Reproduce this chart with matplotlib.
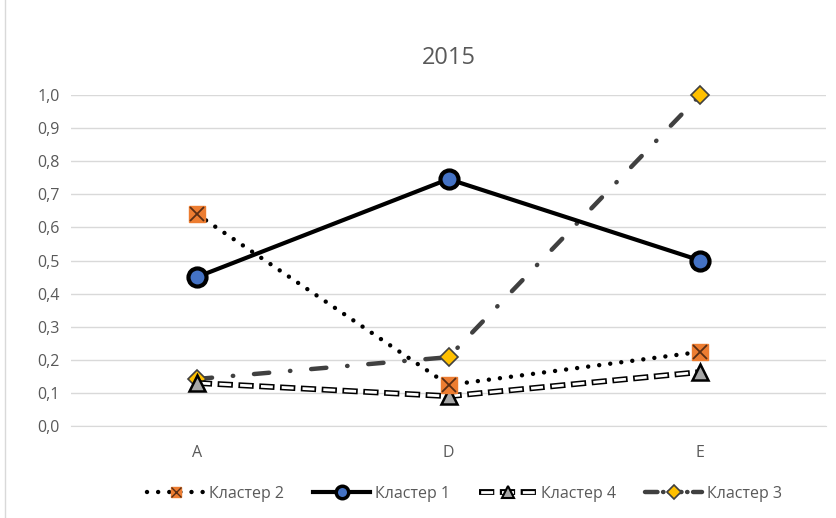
import matplotlib.pyplot as plt
from matplotlib.lines import Line2D
from matplotlib.legend_handler import HandlerTuple

categories = ['A', 'D', 'E']
klaster2 = [0.64, 0.124, 0.224]
klaster1 = [0.45, 0.746, 0.50]
klaster4 = [0.13, 0.09, 0.163]
klaster3 = [0.142, 0.208, 1.0]
yticks = [0.0, 0.1, 0.2, 0.3, 0.4, 0.5, 0.6, 0.7, 0.8, 0.9, 1.0]

plt.rcParams['font.family'] = ['Open Sans', 'DejaVu Sans']
plt.rcParams['lines.scale_dashes'] = False

fig = plt.figure(figsize=(8.37, 5.18), dpi=100)
ax = fig.add_axes([0.0848, 0.1776, 0.9022, 0.639])
x = list(range(len(categories)))

# styles (shared with legend proxies)
st3 = dict(color='#404040', lw=3.2, ls=(0, (11, 15, 0.3, 15)), dash_capstyle='round',
           mfc='#FFC000', mec='#404040', mew=1.2)
st4b = dict(color='black', lw=4.2, ls=(0, (11, 4)))
st4w = dict(color='white', lw=2.0, ls=(13.8, (8.6, 6.4)))
st2 = dict(color='black', lw=3.2, ls=(0, (0.01, 8)), dash_capstyle='round',
           mfc='#ED7D31', mec='#ED7D31')
st1 = dict(color='black', lw=3, mfc='#4472C4', mec='black')

# Кластер 3 - dash-dot gray, diamond
ax.plot(x, klaster3, marker='D', ms=9, zorder=3, clip_on=False, **st3)
# Кластер 4 - white dashed with black outline, triangle
ax.plot(x, klaster4, zorder=4, **st4b)
ax.plot(x, klaster4, zorder=4, **st4w)
ax.plot(x, klaster4, ls='none', marker='^', ms=12, mfc='#A6A6A6', mec='black', mew=1.8, zorder=4)
# Кластер 2 - dotted black, orange square with X
ax.plot(x, klaster2, marker='s', ms=11, zorder=5, **st2)
ax.plot(x, klaster2, ls='none', marker='x', ms=10, mec='#5a2e14', mew=1.3, zorder=6)
# Кластер 1 - solid black, blue circle
ax.plot(x, klaster1, marker='o', ms=13, mew=3, zorder=5, **st1)

ax.set_xlim(-0.5, 2.5)
ax.set_ylim(0, 1.0)
ax.set_xticks(x)
ax.set_xticklabels(categories)
ax.set_yticks(yticks)
ax.set_yticklabels([f'{v:.1f}'.replace('.', ',') for v in yticks])
ax.tick_params(axis='both', length=0, labelsize=11.5, labelcolor='#595959', pad=8)
ax.tick_params(axis='x', pad=14)
ax.grid(axis='y', color='#d9d9d9', lw=1)
ax.set_axisbelow(True)
for s in ['top', 'right', 'left']:
    ax.spines[s].set_visible(False)
ax.spines['bottom'].set_color('#d9d9d9')

ax.set_title('2015', fontsize=17, color='#595959', pad=22)

# legend proxies with smaller markers
h2 = (Line2D([], [], marker='s', ms=7, **st2),
      Line2D([], [], ls='none', marker='x', ms=7, mec='#5a2e14', mew=1))
h1 = Line2D([], [], marker='o', ms=9, mew=2.5, **st1)
h4 = (Line2D([], [], **st4b), Line2D([], [], **st4w),
      Line2D([], [], ls='none', marker='^', ms=8, mfc='#A6A6A6', mec='black', mew=1.5))
h3 = Line2D([], [], marker='D', ms=7, color='#404040', lw=3.2, ls=(0, (9, 4, 0.3, 4)),
            dash_capstyle='round', mfc='#FFC000', mec='#404040', mew=1.2)
labels = ['Кластер 2', 'Кластер 1', 'Кластер 4', 'Кластер 3']
fig.legend([h2, h1, h4, h3], labels, loc='center', bbox_to_anchor=(0.555, 0.047), ncol=4,
           frameon=False, fontsize=11.5, labelcolor='#595959', handlelength=3.6,
           columnspacing=1.8, handletextpad=0.3,
           handler_map={tuple: HandlerTuple(ndivide=1, pad=0)})

# chart border on the left
fig.add_artist(Line2D([0.006, 0.006], [0, 1], color='#d9d9d9', lw=1))

fig.savefig('out.png', dpi=100)
